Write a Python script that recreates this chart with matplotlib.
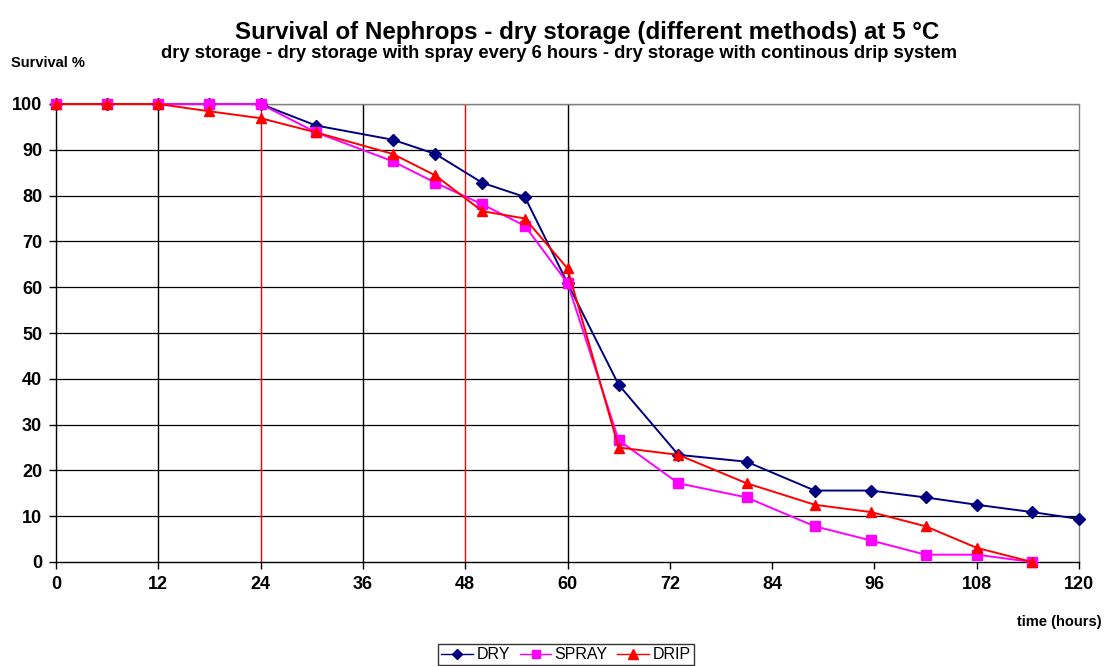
import matplotlib
matplotlib.use("Agg")
import matplotlib.pyplot as plt

plt.rcParams['font.family'] = ['Liberation Sans', 'DejaVu Sans']

# time in hours
hours_dry = [0, 6, 12, 18, 24, 30.5, 39.5, 44.5, 50, 55, 60, 66, 73, 81, 89, 95.6, 102, 108, 114.5, 120]
hours_spray = hours_dry[:-1]
hours_drip = hours_dry[:-1]

# survival %
dry = [100, 100, 100, 100, 100, 95.3, 92.2, 89.1, 82.8, 79.7, 60.9, 38.7, 23.4, 21.9, 15.6, 15.6, 14.1, 12.5, 10.9, 9.4]
spray = [100, 100, 100, 100, 100, 93.8, 87.5, 82.8, 78.1, 73.4, 60.9, 26.6, 17.2, 14.1, 7.8, 4.7, 1.6, 1.6, 0]
drip = [100, 100, 100, 98.4, 96.9, 93.8, 89.1, 84.4, 76.6, 75.0, 64.1, 25.0, 23.4, 17.2, 12.5, 10.9, 7.8, 3.1, 0]

# vertical marker lines
vlines_at = [12, 24, 36, 48, 60]
vline_colors = ['black', 'red', 'black', 'red', 'black']

xticks = list(range(0, 121, 12))
yticks = list(range(0, 101, 10))

fig = plt.figure(figsize=(11.04, 6.66), dpi=100)
ax = fig.add_axes([56 / 1104, 1 - 562 / 666, (1079 - 56) / 1104, (562 - 104) / 666])

for y in yticks[1:]:
    ax.axhline(y, color='black', lw=0.9, zorder=1)
for x, c in zip(vlines_at, vline_colors):
    ax.axvline(x, color=c, lw=1.0, zorder=1)

ax.plot(hours_dry, dry, color='#000080', marker='D', markersize=6, lw=1.4,
        label='DRY', clip_on=False, zorder=3)
ax.plot(hours_spray, spray, color='#FF00FF', marker='s', markersize=7, lw=1.4,
        label='SPRAY', clip_on=False, zorder=4)
ax.plot(hours_drip, drip, color='#FF0000', marker='^', markersize=7.5, lw=1.4,
        label='DRIP', clip_on=False, zorder=5)

ax.set_xlim(0, 120)
ax.set_ylim(0, 100)
ax.set_xticks(xticks)
ax.set_yticks(yticks)
ax.tick_params(direction='out', length=5, width=1, labelsize=13, pad=5)
for lab in ax.get_xticklabels() + ax.get_yticklabels():
    lab.set_fontweight('bold')

ax.spines['left'].set_color('black')
ax.spines['bottom'].set_color('black')
ax.spines['top'].set_color('#808080')
ax.spines['right'].set_color('#808080')
for s in ax.spines.values():
    s.set_linewidth(1.0)

fig.text(587 / 1104, 1 - 32 / 666, 'Survival of Nephrops - dry storage (different methods) at 5 °C',
         ha='center', va='center', fontsize=17.4, fontweight='bold')
fig.text(559 / 1104, 1 - 53 / 666,
         'dry storage - dry storage with spray every 6 hours - dry storage with continous drip system',
         ha='center', va='center', fontsize=13.2, fontweight='bold')
fig.text(11 / 1104, 1 - 63 / 666, 'Survival %', ha='left', va='center', fontsize=10.5, fontweight='bold')
fig.text(1102 / 1104, 1 - 622 / 666, 'time (hours)', ha='right', va='center', fontsize=10.5, fontweight='bold')

leg = fig.legend(loc='upper center', bbox_to_anchor=(566 / 1104, 1 - 644 / 666), ncol=3,
                 fontsize=11.5, frameon=True, fancybox=False, edgecolor='black',
                 handlelength=2.0, handletextpad=0.2, columnspacing=0.6,
                 borderpad=0.2, borderaxespad=0, markerscale=0.9)
leg.get_frame().set_linewidth(1.0)
for line in leg.get_lines():
    line.set_linewidth(1.0)

fig.savefig('out.png', dpi=100)
